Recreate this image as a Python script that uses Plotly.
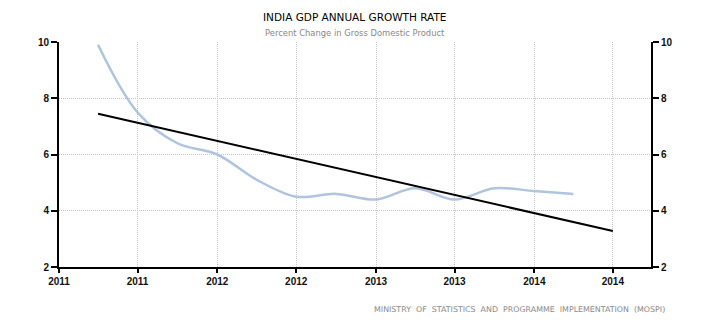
import plotly.graph_objects as go

# Data (quarterly)
quarters = ["2011-04-01", "2011-07-01", "2011-10-01", "2012-01-01", "2012-04-01",
            "2012-07-01", "2012-10-01", "2013-01-01", "2013-04-01", "2013-07-01",
            "2013-10-01", "2014-01-01", "2014-04-01"]
gdp_growth = [9.9, 7.5, 6.4, 6.0, 5.1, 4.5, 4.6, 4.4, 4.8, 4.4, 4.8, 4.7, 4.6]
trend_dates = ["2011-04-01", "2014-07-01"]
trend_values = [7.45, 3.28]

tick_dates = ["2011-01-01", "2011-07-01", "2012-01-01", "2012-07-01",
              "2013-01-01", "2013-07-01", "2014-01-01", "2014-07-01"]
tick_labels = ["2011", "2011", "2012", "2012", "2013", "2013", "2014", "2014"]
y_ticks = [2, 4, 6, 8, 10]

title_text = "INDIA GDP ANNUAL GROWTH RATE"
subtitle_text = "Percent Change in Gross Domestic Product"
source_text = "MINISTRY  OF  STATISTICS  AND  PROGRAMME  IMPLEMENTATION  (MOSPI)"

fig = go.Figure()
fig.add_trace(go.Scatter(x=quarters, y=gdp_growth, mode="lines",
                         line=dict(color="#b0c4de", width=2.5, shape="spline", smoothing=1.0),
                         hoverinfo="skip"))
fig.add_trace(go.Scatter(x=trend_dates, y=trend_values, mode="lines",
                         line=dict(color="#000000", width=2), hoverinfo="skip"))
# invisible trace to display the right-hand axis
fig.add_trace(go.Scatter(x=trend_dates, y=trend_values, mode="lines", yaxis="y2",
                         line=dict(color="rgba(0,0,0,0)", width=0), hoverinfo="skip"))

tick_font = dict(family="Liberation Sans, Arial, sans-serif", size=10, color="#111111",
                 weight="bold")
grid = dict(showgrid=True, gridcolor="#c4c4c4", griddash="1px,1px", gridwidth=1)

fig.update_layout(
    width=710, height=325,
    margin=dict(l=59, r=59, t=42, b=58),
    paper_bgcolor="white", plot_bgcolor="white",
    showlegend=False,
    xaxis=dict(type="date", range=["2011-01-01", "2014-09-27"],
               tickvals=tick_dates, ticktext=tick_labels, **grid,
               showline=True, linecolor="black", linewidth=2,
               ticks="outside", ticklen=4, tickwidth=1.5, tickcolor="black",
               tickfont=tick_font, zeroline=False),
    yaxis=dict(range=[2, 10], tickvals=y_ticks, **grid,
               showline=True, linecolor="black", linewidth=2,
               ticks="outside", ticklen=6, tickwidth=1.5, tickcolor="black",
               tickfont=tick_font, zeroline=False),
    yaxis2=dict(range=[2, 10], tickvals=y_ticks, overlaying="y", side="right",
                showgrid=False, showline=True, linecolor="black", linewidth=2,
                ticks="outside", ticklen=6, tickwidth=1.5, tickcolor="black",
                tickfont=tick_font, zeroline=False),
    annotations=[
        dict(text=title_text, xref="paper", yref="paper", x=0.5, y=1.111,
             xanchor="center", yanchor="middle", showarrow=False,
             font=dict(family="DejaVu Sans, sans-serif", size=10.5, color="#000000")),
        dict(text=subtitle_text, xref="paper", yref="paper", x=0.5, y=1.04,
             xanchor="center", yanchor="middle", showarrow=False,
             font=dict(family="DejaVu Sans, sans-serif", size=8.4, color="#888888")),
        dict(text=source_text, xref="paper", yref="paper", x=1.027, y=-0.191,
             xanchor="right", yanchor="middle", showarrow=False,
             font=dict(family="DejaVu Sans, sans-serif", size=7.9, color="#8a8a8a")),
    ],
)

fig.write_html("out.html")
